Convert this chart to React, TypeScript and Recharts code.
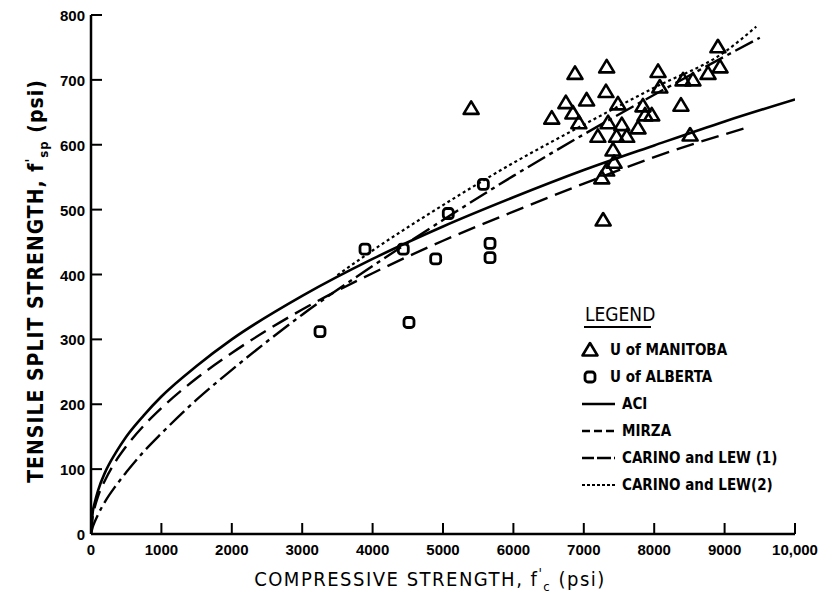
import { ComposedChart, Line, Scatter, XAxis, YAxis } from 'recharts';

// tick values
const xTicks = [0, 1000, 2000, 3000, 4000, 5000, 6000, 7000, 8000, 9000, 10000];
const xTickLabels = ['0', '1000', '2000', '3000', '4000', '5000', '6000', '7000', '8000', '9000', '10,000'];
const yTicks = [0, 100, 200, 300, 400, 500, 600, 700, 800];

// test data (f'c, f'sp)
const manitoba = [
    [5400, 656], [6875, 710], [7325, 720], [6545, 641], [6745, 665], [7040, 669],
    [6845, 649], [6930, 634], [7315, 682], [7485, 663], [7345, 634], [7540, 631],
    [7200, 613], [7465, 613], [7610, 613], [7770, 626], [7840, 660], [7870, 646],
    [7965, 646], [7415, 592], [7430, 573], [7325, 561], [7255, 549], [8055, 713],
    [8080, 689], [8410, 700], [8550, 700], [8765, 710], [8935, 720], [8905, 751],
    [8380, 661], [8510, 615], [7275, 484],
];
const alberta = [
    [3253, 312], [3892, 439], [4436, 439], [4517, 326], [4896, 424],
    [5075, 494], [5573, 539], [5668, 448], [5668, 426],
];

// curves
const aciX = [0, 25, 50, 100, 200, 350, 500, 750, 1000, 1500, 2000, 3000, 4000, 5000, 6000, 7000, 8000, 9000, 10000];
const aciY = [0, 34, 47, 67, 95, 125, 150, 183, 212, 259, 300, 367, 424, 474, 519, 561, 599, 636, 670];
const mirzaX = [0, 25, 50, 100, 200, 350, 500, 750, 1000, 1500, 2000, 3000, 4000, 5000, 6000, 7000, 8000, 9300];
const mirzaY = [0, 28, 40, 58, 83, 112, 135, 167, 194, 240, 279, 346, 402, 452, 497, 540, 581, 626];
const carino1X = [0, 25, 50, 100, 200, 350, 500, 750, 1000, 1500, 2000, 3000, 4000, 5000, 6000, 7000, 8000, 9000, 9500];
const carino1Y = [0, 11, 18, 30, 50, 74, 95, 127, 155, 207, 253, 338, 413, 484, 552, 616, 677, 736, 765];
const carino2X = [3500, 4000, 5000, 6000, 7000, 8000, 9000, 9450];
const carino2Y = [399, 437, 507, 572, 631, 688, 743, 782];

const toPts = (xs: number[], ys: number[]) => xs.map((x, i) => ({ x, y: ys[i] }));
const toObj = (arr: number[][]) => arr.map(([x, y]) => ({ x, y }));

const tickFont = "'Liberation Sans', Arial, sans-serif";
const narrowFont = "'DejaVu Sans Condensed', 'Liberation Sans', sans-serif";

const XTick = (props: any) => {
    const { x, y, payload } = props;
    const i = xTicks.indexOf(payload.value);
    return (
        <g>
            <line x1={x} x2={x} y1={y} y2={y - 11} stroke="#000" strokeWidth={2} />
            <text x={x} y={y + 21} textAnchor="middle" fontFamily={tickFont} fontWeight="bold" fontSize={15} fill="#000">
                {xTickLabels[i]}
            </text>
        </g>
    );
};

const YTick = (props: any) => {
    const { x, y, payload } = props;
    return (
        <g>
            <line x1={x} x2={x + 11} y1={y} y2={y} stroke="#000" strokeWidth={2} />
            <text x={x - 6} y={y + 6} textAnchor="end" fontFamily={tickFont} fontWeight="bold" fontSize={15} fill="#000">
                {payload.value}
            </text>
        </g>
    );
};

const Tri = ({ cx, cy }: any) => (
    <path d={`M${cx},${cy - 7} L${cx + 7.5},${cy + 5.5} L${cx - 7.5},${cy + 5.5} Z`} fill="none" stroke="#000" strokeWidth={2.6} strokeLinejoin="round" />
);
const Sq = ({ cx, cy }: any) => (
    <rect x={cx - 5} y={cy - 5} width={10} height={10} rx={3} fill="none" stroke="#000" strokeWidth={2.8} />
);

export default function App() {
    const lineProps = { type: 'monotone' as const, dataKey: 'y', stroke: '#000', dot: false, activeDot: false, isAnimationActive: false };
    return (
        <div style={{ position: 'absolute', left: 0, top: 0, width: 825, height: 603, background: '#fff' }}>
            <ComposedChart width={825} height={603} margin={{ top: 15, right: 30, bottom: 0, left: 31 }}>
                <XAxis
                    type="number"
                    dataKey="x"
                    domain={[0, 10000]}
                    ticks={xTicks}
                    allowDataOverflow
                    height={69}
                    tickLine={false}
                    tickSize={0}
                    tickMargin={0}
                    tick={<XTick />}
                    axisLine={{ stroke: '#000', strokeWidth: 2.5 }}
                />
                <YAxis
                    type="number"
                    dataKey="y"
                    domain={[0, 800]}
                    ticks={yTicks}
                    allowDataOverflow
                    width={60}
                    tickLine={false}
                    tickSize={0}
                    tickMargin={0}
                    tick={<YTick />}
                    axisLine={{ stroke: '#000', strokeWidth: 2.5 }}
                />
                <Line {...lineProps} data={toPts(aciX, aciY)} strokeWidth={2.6} />
                <Line {...lineProps} data={toPts(mirzaX, mirzaY)} strokeWidth={2.4} strokeDasharray="18 8" />
                <Line {...lineProps} data={toPts(carino1X, carino1Y)} strokeWidth={2.4} strokeDasharray="20 5 4 5" />
                <Line {...lineProps} data={toPts(carino2X, carino2Y)} strokeWidth={2.2} strokeDasharray="3 3" />
                <Scatter data={toObj(manitoba)} dataKey="y" isAnimationActive={false} shape={<Tri />} />
                <Scatter data={toObj(alberta)} dataKey="y" isAnimationActive={false} shape={<Sq />} />
            </ComposedChart>

            {/* axis titles */}
            <svg width={825} height={603} style={{ position: 'absolute', left: 0, top: 0, pointerEvents: 'none' }}>
                <text transform="translate(43,281) rotate(-90)" textAnchor="middle" fontFamily={narrowFont} fontWeight="bold" fontSize={21} letterSpacing={1} fill="#000">
                    TENSILE SPLIT STRENGTH, f<tspan dy={-8} fontSize={14}>'</tspan><tspan dy={13} fontSize={13}>sp</tspan><tspan dy={-5}> (psi)</tspan>
                </text>
                <text x={430} y={586} textAnchor="middle" fontFamily={narrowFont} fontSize={20} letterSpacing={1.5} fill="#000">
                    COMPRESSIVE STRENGTH, f<tspan dy={-8} fontSize={14}>'</tspan><tspan dy={13} fontSize={13}>c</tspan><tspan dy={-5}> (psi)</tspan>
                </text>

                {/* legend */}
                <text x={585} y={321} fontFamily={narrowFont} fontSize={19} fill="#000">LEGEND</text>
                <line x1={584} x2={651} y1={327} y2={327} stroke="#000" strokeWidth={2.2} />
                <Tri cx={590} cy={350} />
                <text x={610} y={355} fontFamily={narrowFont} fontWeight="bold" fontSize={15} fill="#000">U of MANITOBA</text>
                <Sq cx={590} cy={377} />
                <text x={610} y={382} fontFamily={narrowFont} fontWeight="bold" fontSize={15} fill="#000">U of ALBERTA</text>
                <line x1={582} x2={615} y1={404} y2={404} stroke="#000" strokeWidth={2.4} />
                <text x={622} y={409} fontFamily={narrowFont} fontWeight="bold" fontSize={15} fill="#000">ACI</text>
                <line x1={582} x2={615} y1={431} y2={431} stroke="#000" strokeWidth={2.4} strokeDasharray="8 4" />
                <text x={622} y={436} fontFamily={narrowFont} fontWeight="bold" fontSize={15} fill="#000">MIRZA</text>
                <line x1={582} x2={615} y1={458} y2={458} stroke="#000" strokeWidth={2.4} strokeDasharray="12 3 14 3" />
                <text x={622} y={463} fontFamily={narrowFont} fontWeight="bold" fontSize={15} fill="#000">CARINO and LEW (1)</text>
                <line x1={582} x2={615} y1={485} y2={485} stroke="#000" strokeWidth={2} strokeDasharray="3 2" />
                <text x={622} y={490} fontFamily={narrowFont} fontWeight="bold" fontSize={15} fill="#000">CARINO and LEW(2)</text>
            </svg>
        </div>
    );
}
